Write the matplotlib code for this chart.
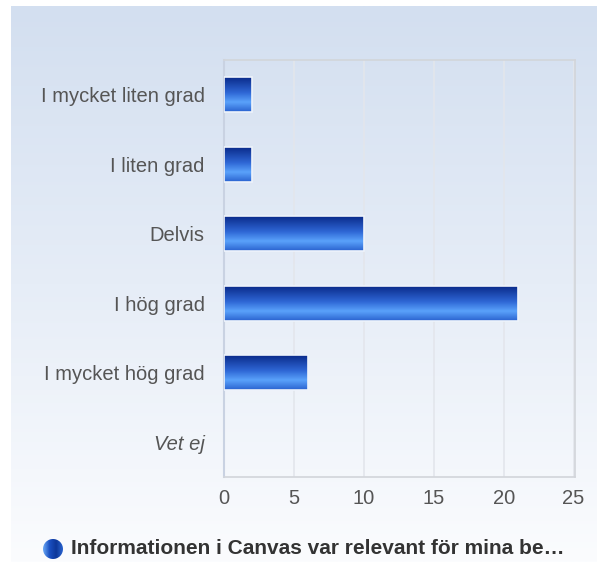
import matplotlib
matplotlib.use("Agg")
import matplotlib.pyplot as plt
import numpy as np
from matplotlib.colors import LinearSegmentedColormap
from matplotlib.patches import Circle, Rectangle

categories = ["I mycket liten grad", "I liten grad", "Delvis", "I hög grad", "I mycket hög grad", "Vet ej"]
values = [2, 2, 10, 21, 6, 0]
xticks = [0, 5, 10, 15, 20, 25]
legend_label = "Informationen i Canvas var relevant för mina be…"

plt.rcParams['font.family'] = ['Liberation Sans', 'DejaVu Sans']

W, H = 597, 562
fig = plt.figure(figsize=(W / 100, H / 100), dpi=100)
fig.patch.set_facecolor("white")

# background panel gradient
bg = fig.add_axes([11 / W, 0, 1 - 11 / W, 1 - 6 / H])
bg.set_axis_off()
bgcmap = LinearSegmentedColormap.from_list("bg", ["#fbfcfe", "#e6edf7", "#d3dff0"])
bg.imshow(np.linspace(0, 1, 256).reshape(-1, 1), cmap=bgcmap, aspect="auto",
          origin="lower", extent=(0, 1, 0, 1))
bg.set_xlim(0, 1)
bg.set_ylim(0, 1)

ax = fig.add_axes([224 / W, 1 - 477 / H, (575 - 224) / W, (477 - 60) / H])
ax.patch.set_alpha(0)

n = len(categories)
ypos = [n - 1 - i for i in range(n)]
h = 0.5
barcmap = LinearSegmentedColormap.from_list(
    "bar", [(0, "#2a62cf"), (0.28, "#5aa2fb"), (0.55, "#2f68d6"), (1.0, "#0a2a8a")])
grad = np.linspace(0, 1, 128).reshape(-1, 1)
for y, v in zip(ypos, values):
    if v <= 0:
        continue
    ax.imshow(grad, cmap=barcmap, aspect="auto", origin="lower",
              extent=(0, v, y - h / 2, y + h / 2), zorder=3, interpolation="bilinear")
    ax.add_patch(Rectangle((0, y - h / 2), v, h, fill=False, edgecolor="#eef3fb",
                           linewidth=1.2, zorder=4))

ax.set_xlim(0, 25.1)
ax.set_ylim(-0.5, n - 0.5)
ax.set_xticks(xticks)
ax.set_xticklabels([str(t) for t in xticks])
ax.set_yticks(ypos)
ax.set_yticklabels(categories)
for lbl, v in zip(ax.get_yticklabels(), values):
    if v == 0:
        lbl.set_style("italic")
ax.tick_params(axis="both", length=0, colors="#555555", labelsize=14.5)
ax.tick_params(axis="y", pad=14)
ax.tick_params(axis="x", pad=9)
ax.grid(axis="x", color="#e3e6ec", linewidth=1.2, zorder=0)
ax.set_axisbelow(True)
for s in ["top", "right", "bottom"]:
    ax.spines[s].set_color("#d2d5da")
    ax.spines[s].set_linewidth(1.2)
ax.spines["left"].set_color("#c9d2e2")
ax.spines["left"].set_linewidth(1.5)

# legend
la = fig.add_axes([0, 0, 1, 1])
la.set_axis_off()
la.set_xlim(0, W)
la.set_ylim(H, 0)
cx, cy, r = 53, 549, 10
circ = Circle((cx, cy), r, facecolor="none", edgecolor="none")
la.add_patch(circ)
lcmap = LinearSegmentedColormap.from_list("lg", ["#6aa8f5", "#1a4fc0", "#0d3799", "#2a64cf"])
im = la.imshow(np.linspace(0, 1, 64).reshape(1, -1), cmap=lcmap, aspect="auto",
               extent=(cx - r, cx + r, cy + r, cy - r), interpolation="bilinear")
im.set_clip_path(circ)
la.text(71, 549, legend_label, fontsize=15, fontweight="bold", color="#333333",
        va="center", ha="left")

fig.savefig("out.png", dpi=100)
